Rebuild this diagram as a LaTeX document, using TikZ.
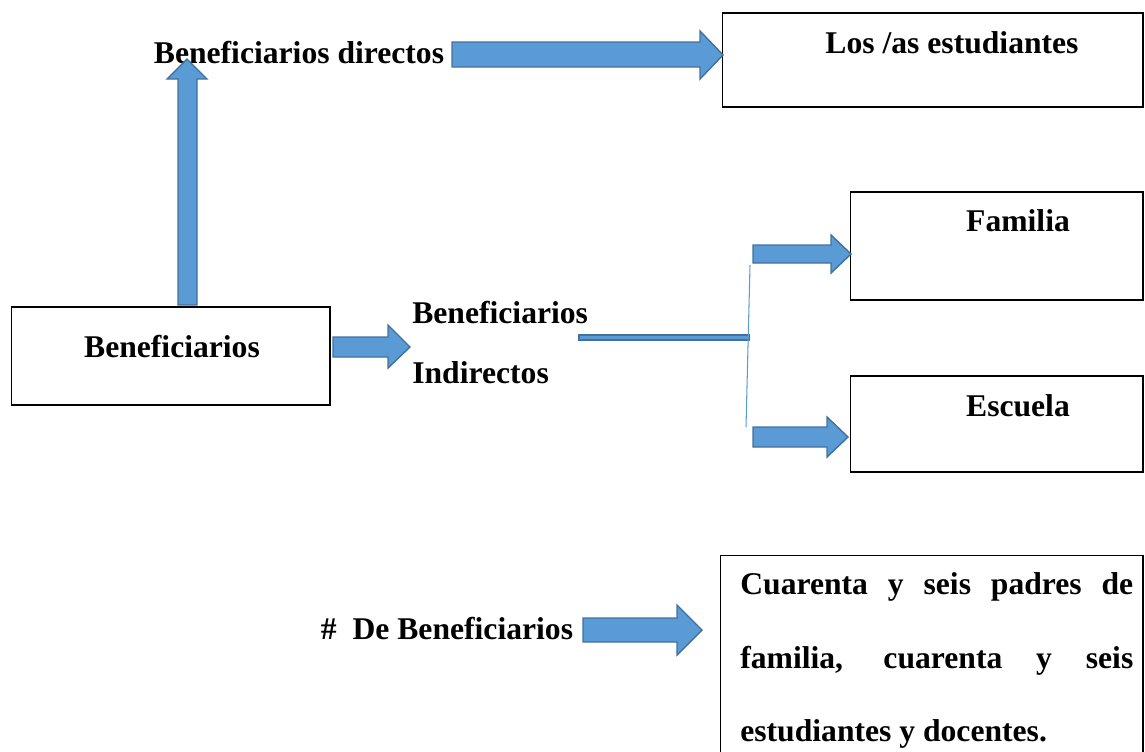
\documentclass[tikz,border=0pt]{standalone}
\usepackage{fontspec}
\setmainfont{Liberation Serif}
\definecolor{azul}{HTML}{5B9BD5}
\definecolor{azulborde}{HTML}{41719C}
\tikzset{
 flecha/.style={fill=azul, draw=azulborde, line width=0.8pt, line join=miter},
 caja/.style={draw, line width=0.6pt, inner sep=0pt},
 texto/.style={font=\fontsize{18}{22}\selectfont\bfseries, inner sep=0pt}
}
\begin{document}
\begin{tikzpicture}[x=0.02cm,y=-0.02cm]
 \useasboundingbox (0,0) rectangle (1145,751);
 % cajas
 \node[caja, minimum width=6.38cm, minimum height=1.96cm] (benef) at (170.5,356) {};
 \node[caja, minimum width=8.42cm, minimum height=1.88cm] (estud) at (932.5,60) {};
 \node[caja, minimum width=5.86cm, minimum height=2.16cm] (familia) at (996.5,246) {};
 \node[caja, minimum width=5.86cm, minimum height=1.92cm] (escuela) at (996.5,424) {};
 \node[caja, minimum width=8.46cm, minimum height=4.3cm] (numero) at (931.5,662.5) {};
 % textos
 \node[texto, anchor=base] (tbenef) at (172,357) {Beneficiarios};
 \node[texto, anchor=base] (tdirec) at (299,63) {Beneficiarios directos};
 \node[texto, anchor=base] (testud) at (952,53) {Los /as estudiantes};
 \node[texto, anchor=base] (tfam) at (1018,231) {Familia};
 \node[texto, anchor=base] (tesc) at (1018,416) {Escuela};
 \node[texto, anchor=base west] (tind1) at (412,323) {Beneficiarios};
 \node[texto, anchor=base west] (tind2) at (412,383) {Indirectos};
 \node[texto, anchor=base] (tnum) at (447,639) {\#\ \ De Beneficiarios};
 \node[texto, anchor=base west] (l1) at (740,594) {\makebox[7.86cm][s]{Cuarenta y seis padres de}};
 \node[texto, anchor=base west] (l2) at (740,668) {\makebox[7.86cm][s]{familia, cuarenta y seis}};
 \node[texto, anchor=base west] (l3) at (740,741) {estudiantes y docentes.};
 % flechas
 \draw[flecha] (178,305) -- (178,79) -- (167,79) -- (187,59) -- (207,79) -- (197,79) -- (197,305) -- cycle;
 \draw[flecha] (452,42) -- (700,42) -- (700,31) -- (723,55) -- (700,79) -- (700,67) -- (452,67) -- cycle;
 \draw[flecha] (333,337) -- (388,337) -- (388,325) -- (410,347) -- (388,368) -- (388,357) -- (333,357) -- cycle;
 \draw[flecha] (753,245) -- (831,245) -- (831,235) -- (851,254) -- (831,273) -- (831,263) -- (753,263) -- cycle;
 \draw[flecha] (753,427) -- (827,427) -- (827,417) -- (848,437) -- (827,457) -- (827,447) -- (753,447) -- cycle;
 \draw[flecha] (583,618) -- (677,618) -- (677,605) -- (702,630) -- (677,655) -- (677,642) -- (583,642) -- cycle;
 % linea de division
 \draw[flecha, line width=0.6pt] (579,335) rectangle (749,340);
 \draw[azul, line width=0.6pt] (750,265) -- (746,427);
\end{tikzpicture}
\end{document}
